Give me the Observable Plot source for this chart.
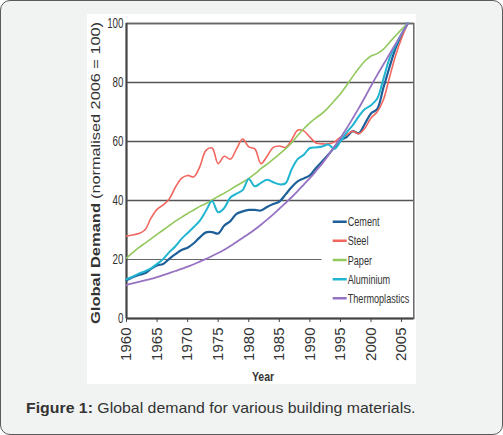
<!DOCTYPE html>
<html>
<head>
<meta charset="utf-8">
<script src="https://cdn.jsdelivr.net/npm/d3@7"></script>
<script src="https://cdn.jsdelivr.net/npm/@observablehq/plot@0.6"></script>
<style>
  html, body { margin: 0; padding: 0; background: #ffffff; }
  #card { position: relative; width: 503px; height: 435px; box-sizing: border-box; background: #f1f3f2; border: 1px solid #5a5a5a; border-radius: 10px; overflow: hidden; font-family: "Liberation Sans", Arial, sans-serif; }
  #panel { position: absolute; left: 86px; top: 13px; width: 329px; height: 370px; background: #ffffff; }
  #caption { position: absolute; left: 25px; top: 398px; font-size: 15px; line-height: 17px; color: #333; white-space: nowrap; transform: scaleX(1.057); transform-origin: 0 0; }
  #caption b { color: #333; }
</style>
</head>
<body>
<div id="card">
  <div id="panel"></div>
  <div id="caption"><b>Figure 1:</b> Global demand for various building materials.</div>
</div>
<script>
// ---- data ----
const years = [1960,1961,1962,1963,1964,1965,1966,1967,1968,1969,
               1970,1971,1972,1973,1974,1975,1976,1977,1978,1979,
               1980,1981,1982,1983,1984,1985,1986,1987,1988,1989,
               1990,1991,1992,1993,1994,1995,1996,1997,1998,1999,
               2000,2001,2002,2003,2004,2005,2006];

const cement = [13,14,14.8,15.3,16.8,18,18.5,20.2,21.8,23.2,
                24,25.5,27.5,29.2,29.3,28.8,31.5,33,35.5,36.3,
                36.8,36.8,36.6,37.8,38.8,39.6,42,44.5,46.5,47.5,
                48.5,51,53.2,55.5,58,60.5,61.5,63.5,62.8,66,
                69.5,71,78,85,91.5,96,100];

const steel = [28,28.3,28.8,30,34,37,38.5,40.5,44.5,47.5,
               48.5,48,51.5,57,57.8,52.5,55,54,57.5,60.8,
               58.2,57.5,52.5,55,58,58.5,58,60.5,63.8,63.6,
               61.5,59.5,59.2,59.2,59.8,61.5,62.2,63.5,62.6,64.5,
               68,70,74,81.5,89,95,100];

const paper = [20.5,22.3,24,25.5,27,28.5,30,31.5,33,34.3,
               35.6,36.8,38,39,40.2,41.4,42.5,43.7,45,46.2,
               47.5,49,50.8,52.3,54,55.7,57.5,59.5,62,64.3,
               66.3,68,69.5,71.5,73.8,76.2,79,82,84.8,87.3,
               89,89.8,91.2,93.5,95.8,98,100];

const aluminium = [13.3,14.2,15.2,16,17,18.5,20.2,22.5,24.5,27,
                   29,31,33.2,36.5,39.8,36,37.5,41,42.3,43.5,
                   47.3,44.8,46,47,46.2,45.5,45.8,50.5,54,55.5,
                   57.8,58,58.3,59,57.5,60,63,65.5,68.5,71,
                   72.3,74.5,81,88,92.5,96.5,100];

const thermoplastics = [11.4,11.9,12.4,12.9,13.4,14,14.7,15.4,16.1,16.8,
                        17.6,18.4,19.3,20.2,21.2,22.2,23.3,24.6,25.9,27.3,
                        28.7,30.2,31.8,33.5,35.3,37.2,39.1,41.1,43.2,45.4,
                        47.6,50,52.5,55.3,58.2,61.2,64.4,67.8,71.3,75,
                        78.8,82.5,86,89.5,93,96.5,100];

const seriesNames = ["Cement","Steel","Paper","Aluminium","Thermoplastics"];
const seriesValues = [cement, steel, paper, aluminium, thermoplastics];
const seriesColors = ["#1d5f98","#f1665f","#92c85d","#20b5d0","#9672c3"];
const seriesWidths = [2.2, 1.6, 1.6, 2.0, 1.8];

const xTicks = [1960,1965,1970,1975,1980,1985,1990,1995,2000,2005];
const yTicks = [0,20,40,60,80,100];
const gridFull = [40,60,80,100];
const gridPartial = [20];

// ---- chart ----
const chart = Plot.plot({
  width: 329,
  height: 370,
  marginLeft: 39,
  marginRight: 2.7,
  marginTop: 9,
  marginBottom: 66,
  style: { background: "transparent", fontFamily: "'Liberation Sans', Arial, sans-serif", color: "#333", overflow: "visible" },
  x: { domain: [1960, 2007] },
  y: { domain: [0, 100] },
  marks: [
    Plot.ruleY(gridFull, { stroke: "#555", strokeWidth: 1.6 }),
    Plot.ruleY(gridPartial, { x1: 1960, x2: 1992, stroke: "#666", strokeWidth: 1.2 }),
    Plot.frame({ stroke: "#666", strokeWidth: 1.5 }),
    Plot.axisX({ ticks: xTicks, tickFormat: d => String(d), tickRotate: -90, tickSize: 4, tickPadding: 5, fontSize: 15, label: null, stroke: "#444" }),
    Plot.axisY({ ticks: yTicks, tickSize: 0, tickPadding: 3, fontSize: 14, label: null }),
    Plot.ruleX([1960], { stroke: "#444", strokeWidth: 2 }),
    Plot.ruleY([0], { stroke: "#444", strokeWidth: 2 }),
    ...seriesValues.map((vals, i) =>
      Plot.line(years, { x: years, y: vals, stroke: seriesColors[i], strokeWidth: seriesWidths[i], curve: "catmull-rom" })
    )
  ]
});

chart.style.position = "absolute";
chart.style.left = "86px";
chart.style.top = "13px";
document.getElementById("card").appendChild(chart);

const svg = d3.select(chart);
// condensed look for horizontal tick labels
svg.selectAll('g[aria-label="y-axis tick label"] text').each(function () {
  const t = this.getAttribute("transform") || "";
  this.setAttribute("transform", t + " scale(0.7,1)");
});

// y-axis title (rotated), two parts
const yt = svg.append("g").attr("fill", "#333").attr("text-anchor", "start")
  .attr("font-family", "'Liberation Sans', Arial, sans-serif");
yt.append("text")
  .attr("transform", "translate(13,310) rotate(-90)")
  .attr("font-size", 13).attr("font-weight", "bold")
  .attr("textLength", 121).attr("lengthAdjust", "spacingAndGlyphs")
  .text("Global Demand");
yt.append("text")
  .attr("transform", "translate(13,185) rotate(-90)")
  .attr("font-size", 13)
  .attr("textLength", 177).attr("lengthAdjust", "spacingAndGlyphs")
  .text("(normalised 2006 = 100)");

// x-axis title
svg.append("text")
  .attr("transform", "translate(176,367) scale(0.78,1)")
  .attr("text-anchor", "middle")
  .attr("font-size", 13.5).attr("font-weight", "bold").attr("fill", "#333")
  .text("Year");

// legend
const lg = svg.append("g").attr("text-anchor", "start");
seriesNames.forEach((name, i) => {
  const yy = 207.7 + i * 19.15;
  lg.append("line").attr("x1", 245.7).attr("x2", 259.7).attr("y1", yy).attr("y2", yy)
    .attr("stroke", seriesColors[i]).attr("stroke-width", 2.5);
  lg.append("text").attr("transform", `translate(260.7,${yy}) scale(0.7,1)`)
    .attr("dy", "0.35em").attr("font-size", 13).attr("fill", "#333")
    .text(name);
});
</script>
</body>
</html>
